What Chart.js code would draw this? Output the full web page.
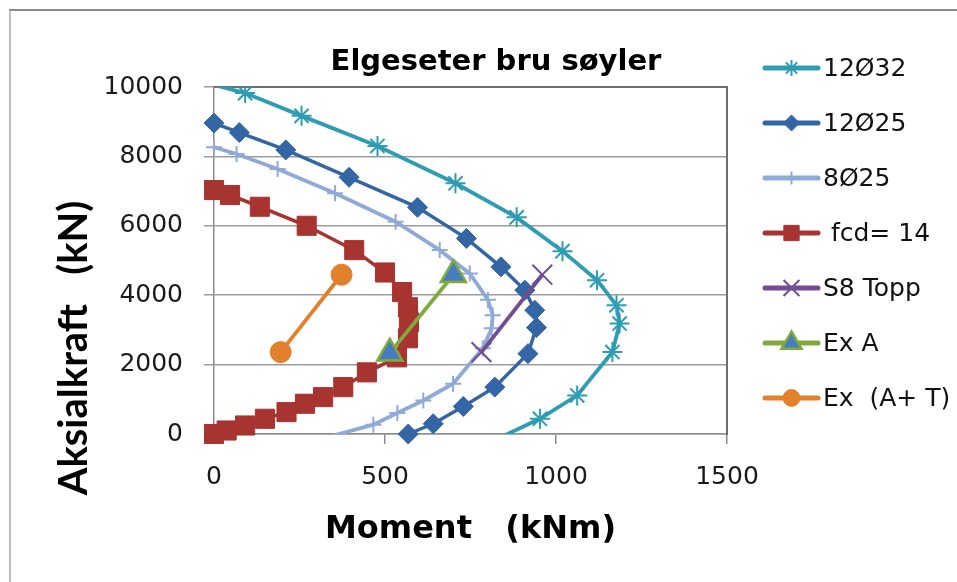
<!DOCTYPE html>
<html>
<head>
<meta charset="utf-8">
<script src="https://cdn.jsdelivr.net/npm/chart.js@4/dist/chart.umd.min.js"></script>
<style>
html,body{margin:0;padding:0;background:#fff;overflow:hidden}
#wrap{position:relative;width:957px;height:582px}
</style>
</head>
<body>
<div id="wrap"><canvas id="c" width="957" height="582"></canvas></div>
<script>
// ---------- text ----------
const chartTitle = 'Elgeseter bru søyler';
const xAxisTitle = 'Moment   (kNm)';
const yAxisTitle = 'Aksialkraft   (kN)';
const seriesNames = ['12Ø32', '12Ø25', '8Ø25', ' fcd= 14', 'S8 Topp', 'Ex A', 'Ex  (A+ T)'];

// ---------- tick values ----------
const xTicks = [0, 500, 1000, 1500];
const yTicks = [0, 2000, 4000, 6000, 8000, 10000];

// ---------- series values (Moment kNm, Aksialkraft kN) ----------
const moment12d32 = [0, 91, 256, 478, 706, 885, 1019, 1120, 1177, 1186, 1165, 1062, 953, 815];
const axial12d32  = [10060, 9824, 9168, 8302, 7225, 6243, 5270, 4433, 3711, 3182, 2362, 1112, 439, -200];

const moment12d25 = [0, 74, 210, 395, 595, 738, 839, 909, 938, 943, 918, 821, 729, 641, 568];
const axial12d25  = [8960, 8686, 8187, 7398, 6532, 5637, 4817, 4144, 3566, 3067, 2316, 1351, 794, 295, 0];

const moment8d25 = [0, 66, 186, 354, 531, 660, 748, 801, 815, 812, 786, 699, 612, 536, 466, 310];
const axial8d25  = [8265, 8071, 7638, 6936, 6116, 5299, 4626, 3867, 3422, 3046, 2469, 1450, 967, 605, 270, -150];

const momentFcd14 = [0, 47, 134, 271, 410, 500, 550, 567, 570, 567, 535, 447, 378, 319, 266, 212, 149, 91, 37, 0];
const axialFcd14  = [7030, 6887, 6549, 6001, 5299, 4655, 4090, 3652, 3220, 2758, 2209, 1776, 1351, 1063, 872, 630, 439, 245, 101, 0];

const momentS8Topp = [960, 782];
const axialS8Topp  = [4590, 2360];

const momentExA = [700, 514];
const axialExA  = [4590, 2330];

const momentExAT = [373, 195];
const axialExAT  = [4590, 2360];

// ---------- helpers ----------
const zip = (xs, ys) => xs.map((x, i) => ({x: x, y: ys[i]}));
const yMin = yTicks[0], yMax = yTicks[yTicks.length - 1];
const inView = (ctx) => ctx.raw && ctx.raw.y >= yMin && ctx.raw.y <= yMax;
const radiusFn = (r) => (ctx) => inView(ctx) ? r : 0;

const styles = [
  {line: '#2E9CB2', fill: '#2E9CB2', border: '#2E9CB2', pointStyle: 'star',     r: 10, bw: 2,   lw: 3.8, clip: {left: 14, top: 0, right: 0, bottom: 0}},
  {line: '#3465A4', fill: '#3465A4', border: '#3465A4', pointStyle: 'rectRot',  r: 10, bw: 1,   lw: 3.5, clip: false},
  {line: '#8FAAD6', fill: '#8FAAD6', border: '#8FAAD6', pointStyle: 'cross',    r: 8,  bw: 2,   lw: 3.8, clip: {left: 14, top: 0, right: 0, bottom: 0}},
  {line: '#A73430', fill: '#A73430', border: '#A73430', pointStyle: 'rect',     r: 13.5, bw: 1, lw: 3.5, clip: false},
  {line: '#704E92', fill: '#704E92', border: '#704E92', pointStyle: 'crossRot', r: 14, bw: 2,   lw: 3.8, clip: false},
  {line: '#80AA3E', fill: '#467DBE', border: '#80AA3E', pointStyle: 'triangle', r: 14.5, bw: 2.5, lw: 3.8, clip: false},
  {line: '#E2802C', fill: '#E2802C', border: '#E2802C', pointStyle: 'circle',   r: 10.5, bw: 1, lw: 3.8, clip: false}
];

const seriesData = [
  zip(moment12d32, axial12d32),
  zip(moment12d25, axial12d25),
  zip(moment8d25, axial8d25),
  zip(momentFcd14, axialFcd14),
  zip(momentS8Topp, axialS8Topp),
  zip(momentExA, axialExA),
  zip(momentExAT, axialExAT)
];

const datasets = seriesData.map((d, i) => {
  const s = styles[i];
  return {
    label: seriesNames[i],
    data: d,
    borderColor: s.line,
    backgroundColor: s.fill,
    borderWidth: s.lw,
    pointStyle: s.pointStyle,
    pointRadius: radiusFn(s.r),
    pointBackgroundColor: s.fill,
    pointBorderColor: s.border,
    pointBorderWidth: s.bw,
    tension: 0,
    fill: false,
    showLine: true,
    clip: s.clip,
    order: seriesData.length - i
  };
});

// ---------- plugins ----------
const TEXT_FONT = '"DejaVu Sans", sans-serif';

const framePlugin = {
  id: 'frame',
  beforeDraw(chart) {
    const ctx = chart.ctx;
    ctx.save();
    ctx.fillStyle = '#ffffff';
    ctx.fillRect(0, 0, chart.width, chart.height);
    ctx.strokeStyle = '#8a8a8a';
    ctx.lineWidth = 2;
    ctx.beginPath();
    ctx.moveTo(9, 10); ctx.lineTo(chart.width, 10);
    ctx.stroke();
    ctx.strokeStyle = '#a8a8a8';
    ctx.lineWidth = 1.5;
    ctx.beginPath();
    ctx.moveTo(10, 10); ctx.lineTo(10, chart.height);
    ctx.stroke();
    ctx.restore();
  },
  beforeDatasetsDraw(chart) {
    const {ctx, chartArea: a} = chart;
    ctx.save();
    ctx.strokeStyle = '#6e6e6e';
    ctx.lineWidth = 2;
    ctx.beginPath();
    ctx.moveTo(a.left, a.top); ctx.lineTo(a.right, a.top); ctx.lineTo(a.right, a.bottom + 1);
    ctx.stroke();
    ctx.restore();
  },
  afterDraw(chart) {
    // vertical axis title
    const ctx = chart.ctx;
    ctx.save();
    ctx.translate(74, 348);
    ctx.rotate(-Math.PI / 2);
    ctx.font = 'bold 40px Lato, sans-serif';
    ctx.fillStyle = '#000';
    ctx.textAlign = 'center';
    ctx.textBaseline = 'middle';
    ctx.fillText(yAxisTitle, 0, 0);
    ctx.restore();
  }
};

const sideLegendPlugin = {
  id: 'sideLegend',
  beforeInit(chart) {
    const box = {
      position: 'right', weight: 1000, fullSize: false, options: {},
      left: 0, top: 0, right: 0, bottom: 0, width: 0, height: 0,
      isHorizontal() { return false; },
      update(maxWidth, maxHeight) { this.width = 230; this.height = maxHeight; },
      draw() {
        const ctx = chart.ctx;
        const x0 = this.left + 38, x1 = this.left + 91, tx = this.left + 96;
        ctx.save();
        chart.data.datasets.forEach((ds, i) => {
          const s = styles[i];
          const y = 68 + i * 55;
          ctx.strokeStyle = s.line;
          ctx.lineWidth = 5;
          ctx.lineCap = 'round';
          ctx.beginPath(); ctx.moveTo(x0, y); ctx.lineTo(x1, y); ctx.stroke();
          ctx.lineCap = 'butt';
          ctx.fillStyle = s.fill;
          ctx.strokeStyle = s.border;
          ctx.lineWidth = s.bw;
          Chart.helpers.drawPoint(ctx, {pointStyle: s.pointStyle, radius: s.r * 0.8, borderWidth: s.bw, rotation: 0}, (x0 + x1) / 2, y);
          ctx.fillStyle = '#111';
          ctx.font = '25px ' + TEXT_FONT;
          ctx.textAlign = 'left';
          ctx.textBaseline = 'middle';
          ctx.fillText(ds.label, tx, y + 1);
        });
        ctx.restore();
      }
    };
    Chart.layouts.addBox(chart, box);
  }
};

// ---------- chart ----------
new Chart(document.getElementById('c'), {
  type: 'scatter',
  data: {datasets: datasets},
  plugins: [framePlugin, sideLegendPlugin],
  options: {
    responsive: false,
    animation: false,
    events: [],
    devicePixelRatio: 1,
    layout: {padding: {left: 35, right: 0, top: 0, bottom: 0}},
    plugins: {
      legend: {display: false},
      tooltip: {enabled: false},
      title: {
        display: true,
        text: chartTitle,
        fullSize: true,
        color: '#000',
        font: {family: TEXT_FONT, size: 29, weight: 'bold', lineHeight: 1.2},
        padding: {top: 44.6, bottom: 7.6}
      }
    },
    scales: {
      x: {
        type: 'linear',
        min: xTicks[0], max: xTicks[xTicks.length - 1],
        afterFit: (s) => { s.height = 148; },
        afterBuildTicks: (s) => { s.ticks = xTicks.map(v => ({value: v})); },
        ticks: {font: {family: TEXT_FONT, size: 25}, color: '#1a1a1a', padding: 18, maxRotation: 0, autoSkip: false,
                callback: (v) => String(v)},
        grid: {drawOnChartArea: false, drawTicks: true, tickLength: 10, color: '#8c8c8c', lineWidth: 1.5},
        border: {display: true, color: '#8c8c8c', width: 1.5},
        title: {display: true, text: xAxisTitle, color: '#000',
                font: {family: TEXT_FONT, size: 32, weight: 'bold', lineHeight: 1.2},
                padding: {top: 0, bottom: 32.8}}
      },
      y: {
        type: 'linear',
        min: yMin, max: yMax,
        afterFit: (s) => { s.width = 179; },
        afterBuildTicks: (s) => { s.ticks = yTicks.map(v => ({value: v})); },
        ticks: {font: {family: TEXT_FONT, size: 25}, color: '#1a1a1a', padding: 21, autoSkip: false,
                callback: (v) => String(v)},
        grid: {drawOnChartArea: true, drawTicks: true, tickLength: 10, color: '#9c9c9c', lineWidth: 1.5},
        border: {display: true, color: '#8c8c8c', width: 1.5},
        title: {display: false}
      }
    }
  }
});
</script>
</body>
</html>
